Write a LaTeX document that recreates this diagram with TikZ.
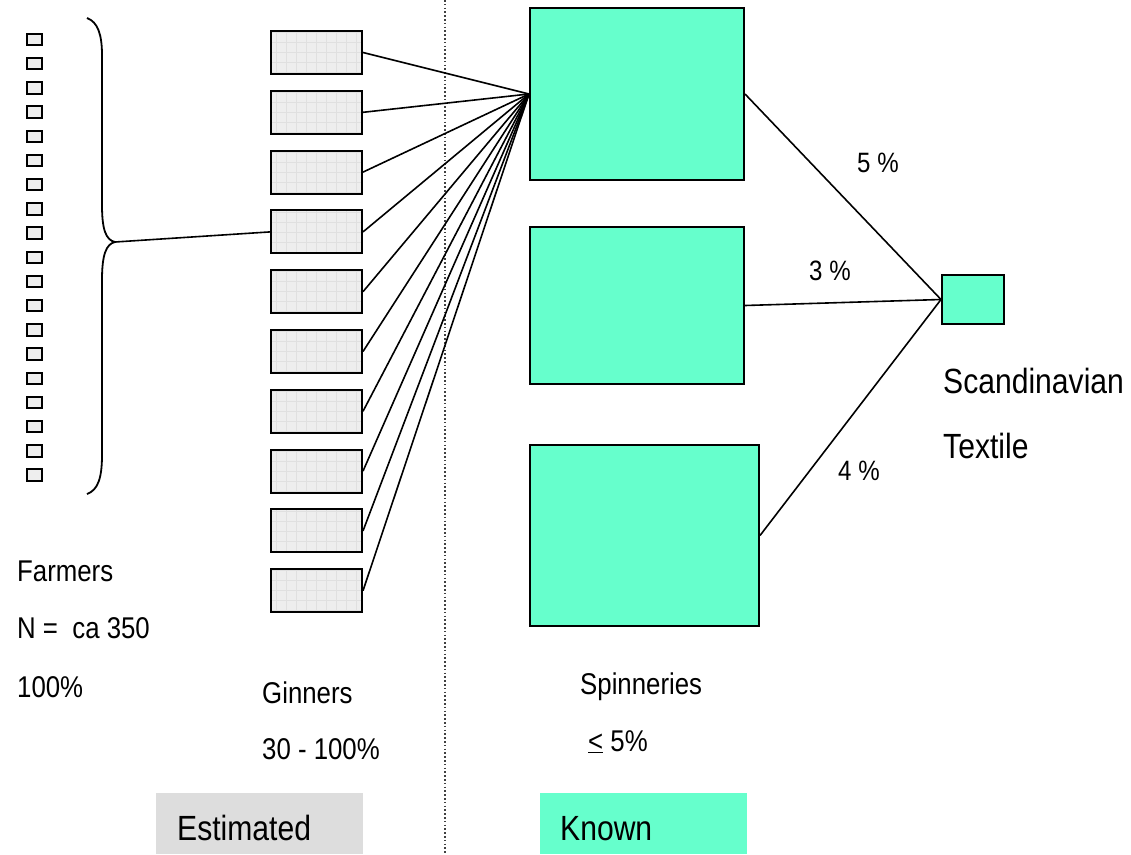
\documentclass[tikz,border=0pt]{standalone}
\usepackage{fontspec}
\setmainfont[FakeStretch=0.86]{Liberation Sans}
\definecolor{aqua}{RGB}{102,255,204}
\definecolor{gfill}{RGB}{238,238,238}
\definecolor{legray}{RGB}{221,221,221}
\begin{document}
\begin{tikzpicture}[x=1pt,y=-1pt,
  farmer/.style={draw=black, line width=2pt, fill=gfill, inner sep=0pt, minimum width=14.5pt, minimum height=11.5pt},
  ginner/.style={draw=black, line width=2pt, fill=gfill, inner sep=0pt, minimum width=91pt, minimum height=43pt,
    path picture={\draw[black!12, line width=0.5pt] (path picture bounding box.south west) grid[step=10pt] (path picture bounding box.north east);}},
  spin/.style={draw=black, line width=2pt, fill=aqua, inner sep=0pt},
  conn/.style={draw=black, line width=1.6pt},
  bigtxt/.style={font=\fontsize{35}{40}\selectfont, inner sep=0pt, anchor=base west},
  midtxt/.style={font=\fontsize{30}{34}\selectfont, inner sep=0pt, anchor=base west},
  pcttxt/.style={font=\fontsize{28}{32}\selectfont, inner sep=0pt, anchor=base west},
  legbox/.style={inner sep=0pt, anchor=north west, minimum width=207pt, minimum height=61pt}
]
\useasboundingbox (0,0) rectangle (1131,854);

% divider
\draw[dash pattern=on 1.5pt off 2.3pt, line width=1.5pt, black!75] (445,0) -- (445,854);

% farmers
\foreach \i in {1,...,19} {
  \node[farmer] (f\i) at (34.5, {39.5+24.2*(\i-1)}) {};
}

% brace
\draw[line width=1.8pt] (87,18) .. controls (98,22) and (102,35) .. (102,55) -- (102,205)
  .. controls (102,230) and (106,240) .. (115,242)
  .. controls (106,244) and (102,255) .. (102,280) -- (102,455)
  .. controls (102,478) and (98,490) .. (87,494);
\coordinate (bt) at (115,242);

% ginners
\foreach \i in {1,...,10} {
  \node[ginner] (g\i) at (316.5, {52.5+59.8*(\i-1)}) {};
}

% spinneries
\node[spin, minimum width=214pt, minimum height=172pt] (s1) at (637,94) {};
\node[spin, minimum width=214pt, minimum height=157pt] (s2) at (637,305.5) {};
\node[spin, minimum width=229pt, minimum height=181pt] (s3) at (644.5,535.5) {};

% scandinavian textile
\node[spin, minimum width=62pt, minimum height=49pt] (st) at (973,299.5) {};

% connectors
\draw[conn] (bt) -- (g4.west);
\foreach \i in {1,...,10} {
  \draw[conn] (g\i.east) -- (s1.west);
}
\draw[conn] (s1.east) -- (st.west);
\draw[conn] (s2.east) -- (st.west);
\draw[conn] (s3.east) -- (st.west);

% percentages
\node[pcttxt] (p5) at (857,172) {5 \%};
\node[pcttxt] (p3) at (809,280) {3 \%};
\node[pcttxt] (p4) at (838,480) {4 \%};

% texts
\node[midtxt] (t1) at (17,581) {Farmers};
\node[midtxt] (t2) at (17,638) {N =\ \ ca 350};
\node[midtxt] (t3) at (17,697) {100\%};
\node[midtxt] (t4) at (262,703) {Ginners};
\node[midtxt] (t5) at (262,759) {30 - 100\%};
\node[midtxt] (t6) at (580,694) {Spinneries};
\node[midtxt] (t7) at (588,751) {\underline{<} 5\%};
\node[bigtxt] (t8) at (943,393) {Scandinavian};
\node[bigtxt] (t9) at (943,458) {Textile};

% legend
\node[legbox, fill=legray] (le) at (156,793) {};
\node[legbox, fill=aqua] (lk) at (540,793) {};
\node[bigtxt] (te) at (177,840) {Estimated};
\node[bigtxt] (tk) at (560,840) {Known};
\end{tikzpicture}
\end{document}
